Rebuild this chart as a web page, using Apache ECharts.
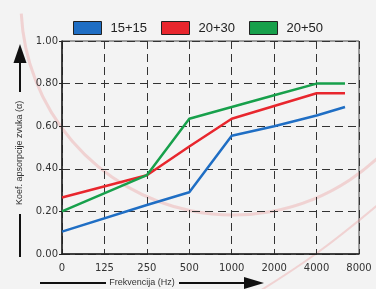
<!DOCTYPE html>
<html>
<head>
<meta charset="utf-8">
<script src="https://cdn.jsdelivr.net/npm/echarts@6/dist/echarts.min.js"></script>
<style>
  html, body { margin: 0; padding: 0; background: #f3f3f3; }
  #chart { width: 376px; height: 289px; }
</style>
</head>
<body>
<div id="chart"></div>
<script>
// frekvencije na osi x (indeksi 0..7)
const freqLabels = ['0', '125', '250', '500', '1000', '2000', '4000', '8000']
const yTicks = ['0.00', '0.20', '0.40', '0.60', '0.80', '1.00']

const seriesNames = ['15+15', '20+30', '20+50']
const seriesColors = ['#1f6ec4', '#e8262d', '#17a04b']

// polozaj tacaka na osi frekvencija (indeks kategorije)
const xPos = [0, 2, 3, 4, 5, 6, 6.67]
const val1515 = [0.105, 0.23, 0.29, 0.555, 0.60, 0.65, 0.69]
const val2030 = [0.265, 0.37, 0.505, 0.635, 0.695, 0.755, 0.755]
const val2050 = [0.20, 0.37, 0.635, 0.69, 0.745, 0.80, 0.80]

const allValues = [val1515, val2030, val2050]

const chart = echarts.init(document.getElementById('chart'))
const bg = '#f3f3f3'

const option = {
  backgroundColor: bg,
  animation: false,
  color: seriesColors,
  textStyle: { fontFamily: 'Liberation Sans' },
  legend: {
    top: 16,
    left: 68,
    icon: 'rect',
    itemWidth: 28,
    itemHeight: 13,
    itemGap: 14,
    textStyle: { fontSize: 13, color: '#222', fontFamily: 'Liberation Sans', padding: [0, 0, 0, 4] },
    itemStyle: { borderColor: '#222', borderWidth: 1 },
    data: seriesNames
  },
  grid: {
    left: 62,
    right: 17,
    top: 41,
    bottom: 35,
    show: true,
    borderColor: '#444',
    borderWidth: 1
  },
  xAxis: {
    type: 'value',
    min: 0,
    max: 7,
    interval: 1,
    axisLine: { show: true, lineStyle: { color: '#222', width: 1.5 } },
    axisTick: { show: false },
    axisLabel: {
      color: '#333',
      fontSize: 10,
      fontFamily: 'DejaVu Sans',
      margin: 9,
      formatter: (v) => freqLabels[v]
    },
    splitLine: {
      show: true,
      lineStyle: { color: '#333', type: [8, 5], width: 1 }
    }
  },
  yAxis: {
    type: 'value',
    min: 0,
    max: 1,
    interval: 0.2,
    axisLine: { show: true, lineStyle: { color: '#222', width: 1.5 } },
    axisTick: { show: true, length: 3, lineStyle: { color: '#222' } },
    axisLabel: {
      color: '#333',
      fontSize: 10,
      fontFamily: 'DejaVu Sans',
      margin: 4,
      formatter: (v) => yTicks[Math.round(v * 5)]
    },
    splitLine: {
      show: true,
      lineStyle: { color: '#333', type: [8, 5], width: 1 }
    }
  },
  graphic: [
    // blijedi ruzicasti luk u pozadini
    {
      type: 'arc', z: 0, silent: true,
      shape: { cx: 233, cy: 3, r: 212, startAngle: 0.2, endAngle: Math.PI - 0.05 },
      style: { stroke: 'rgba(236,150,150,0.35)', lineWidth: 3, fill: null }
    },
    {
      type: 'polyline', z: 0, silent: true,
      shape: { points: [[255, 294], [317, 253], [380, 203]], smooth: 0.4 },
      style: { stroke: 'rgba(236,150,150,0.35)', lineWidth: 2 }
    },
    // strelica y ose
    { type: 'line', shape: { x1: 20, y1: 257, x2: 20, y2: 214 }, style: { stroke: '#111', lineWidth: 2 } },
    { type: 'line', shape: { x1: 20, y1: 92, x2: 20, y2: 60 }, style: { stroke: '#111', lineWidth: 2 } },
    { type: 'polygon', shape: { points: [[13.5, 63], [26.5, 63], [20, 44]] }, style: { fill: '#111' } },
    {
      type: 'text', x: 20, y: 153, rotation: Math.PI / 2,
      style: {
        text: 'Koef. apsorpcije zvuka (α)',
        fontSize: 9, fontFamily: 'Liberation Sans', fill: '#333',
        align: 'center', verticalAlign: 'middle'
      }
    },
    // strelica x ose
    { type: 'line', shape: { x1: 40, y1: 283, x2: 106, y2: 283 }, style: { stroke: '#111', lineWidth: 2 } },
    { type: 'line', shape: { x1: 179, y1: 283, x2: 246, y2: 283 }, style: { stroke: '#111', lineWidth: 2 } },
    { type: 'polygon', shape: { points: [[244, 277], [244, 289], [264, 283]] }, style: { fill: '#111' } },
    {
      type: 'text', x: 142, y: 283,
      style: {
        text: 'Frekvencija (Hz)',
        fontSize: 9, fontFamily: 'Liberation Sans', fill: '#333',
        align: 'center', verticalAlign: 'middle'
      }
    }
  ],
  series: seriesNames.map((name, i) => ({
    name: name,
    type: 'line',
    showSymbol: false,
    z: 3,
    lineStyle: { width: 2.5, color: seriesColors[i] },
    itemStyle: { color: seriesColors[i] },
    data: allValues[i].map((v, j) => [xPos[j], v])
  }))
}

chart.setOption(option)
</script>
</body>
</html>
